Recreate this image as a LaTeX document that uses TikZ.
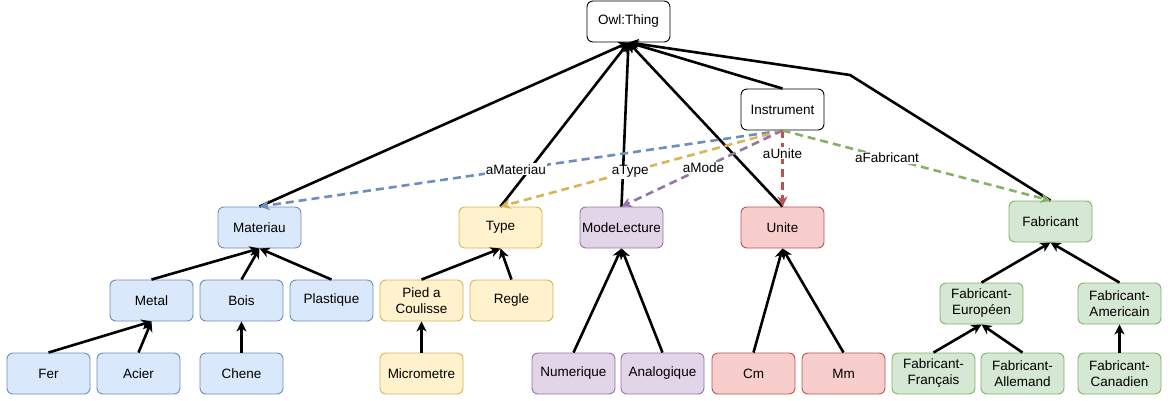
\documentclass[tikz,border=0pt]{standalone}
\usepackage{fontspec}
\setmainfont{Liberation Sans}
\usetikzlibrary{arrows.meta}
\definecolor{bluefill}{HTML}{DAE8FC}\definecolor{bluedraw}{HTML}{6C8EBF}
\definecolor{yelfill}{HTML}{FFF2CC}\definecolor{yeldraw}{HTML}{D6B656}
\definecolor{purfill}{HTML}{E1D5E7}\definecolor{purdraw}{HTML}{9673A6}
\definecolor{redfill}{HTML}{F8CECC}\definecolor{reddraw}{HTML}{B85450}
\definecolor{grnfill}{HTML}{D5E8D4}\definecolor{grndraw}{HTML}{82B366}
\begin{document}
\begin{tikzpicture}[x=1pt,y=-1pt,
  box/.style={draw, rounded corners=6pt, minimum width=83pt, minimum height=41pt,
    align=center, font=\fontsize{13.5}{16}\selectfont, line width=0.9pt, inner sep=2pt},
  plainbox/.style={box, draw=black, fill=white},
  bluebox/.style={box, draw=bluedraw, fill=bluefill},
  yelbox/.style={box, draw=yeldraw, fill=yelfill},
  purbox/.style={box, draw=purdraw, fill=purfill},
  redbox/.style={box, draw=reddraw, fill=redfill},
  grnbox/.style={box, draw=grndraw, fill=grnfill},
  isa/.style={line width=2.6pt, -{Stealth[length=10pt,width=10pt,inset=3pt]}},
  rel/.style={line width=2.6pt, dash pattern=on 8pt off 5pt,
    -{Stealth[length=10pt,width=10pt,inset=3pt]}},
  lbl/.style={fill=white, inner sep=1pt, font=\fontsize{13.5}{16}\selectfont}]
\useasboundingbox (0,0) rectangle (1171,400);

% top level
\node[plainbox] (owl) at (628.5,21.5) {Owl:Thing};
\node[plainbox] (inst) at (782.5,109.5) {Instrument};

% main classes
\node[bluebox] (mat) at (259.5,227.5) {Materiau};
\node[yelbox] (typ) at (500.5,227.5) {Type};
\node[purbox] (mode) at (621.5,227.5) {ModeLecture};
\node[redbox] (uni) at (782.5,227.5) {Unite};
\node[grnbox] (fab) at (1050.5,221.5) {Fabricant};

% second level
\node[bluebox] (metal) at (151.5,300.5) {Metal};
\node[bluebox] (bois) at (241.5,300.5) {Bois};
\node[bluebox] (plast) at (331.5,300.5) {Plastique};
\node[yelbox] (pied) at (421.5,300.5) {Pied a\\Coulisse};
\node[yelbox] (regle) at (511.5,300.5) {Regle};
\node[grnbox] (euro) at (981.5,303.5) {Fabricant-\\Europ\'een};
\node[grnbox] (amer) at (1119.5,303.5) {Fabricant-\\Americain};

% third level
\node[bluebox] (fer) at (48.5,373.5) {Fer};
\node[bluebox] (acier) at (138.5,373.5) {Acier};
\node[bluebox] (chene) at (241.5,373.5) {Chene};
\node[yelbox] (micro) at (421.5,373.5) {Micrometre};
\node[purbox] (num) at (573.5,373.5) {Numerique};
\node[purbox] (ana) at (662.5,373.5) {Analogique};
\node[redbox] (cm) at (753.5,373.5) {Cm};
\node[redbox] (mm) at (843.5,373.5) {Mm};
\node[grnbox] (fr) at (933.5,373.5) {Fabricant-\\Fran\c{c}ais};
\node[grnbox] (de) at (1022.5,373.5) {Fabricant-\\Allemand};
\node[grnbox] (ca) at (1119.5,373.5) {Fabricant-\\Canadien};

\coordinate (bend) at (850,75);

% subclass links
\draw[isa] (mat.north) -- (owl.south);
\draw[isa] (typ.north) -- (owl.south);
\draw[isa] (mode.north) -- (owl.south);
\draw[isa] (uni.north) -- (owl.south);
\draw[isa] (inst.north) -- (owl.south);
\draw[isa] (fab.north) -- (bend) -- (owl.south);

\draw[isa] (metal.north) -- (mat.south);
\draw[isa] (bois.north) -- (mat.south);
\draw[isa] (plast.north) -- (mat.south);
\draw[isa] (fer.north) -- (metal.south);
\draw[isa] (acier.north) -- (metal.south);
\draw[isa] (chene.north) -- (bois.south);

\draw[isa] (pied.north) -- (typ.south);
\draw[isa] (regle.north) -- (typ.south);
\draw[isa] (micro.north) -- (pied.south);

\draw[isa] (num.north) -- (mode.south);
\draw[isa] (ana.north) -- (mode.south);

\draw[isa] (cm.north) -- (uni.south);
\draw[isa] (mm.north) -- (uni.south);

\draw[isa] (euro.north) -- (fab.south);
\draw[isa] (amer.north) -- (fab.south);
\draw[isa] (fr.north) -- (euro.south);
\draw[isa] (de.north) -- (euro.south);
\draw[isa] (ca.north) -- (amer.south);

% object properties of Instrument
\draw[rel, bluedraw] (inst.south) -- (mat.north);
\draw[rel, yeldraw] (inst.south) -- (typ.north);
\draw[rel, purdraw] (inst.south) -- (mode.north);
\draw[rel, reddraw] (inst.south) -- (uni.north);
\draw[rel, grndraw] (inst.south) -- (fab.north);

\path (inst.south) -- (mat.north) node[lbl, pos=0.51] {aMateriau};
\path (inst.south) -- (typ.north) node[lbl, pos=0.54] {aType};
\path (inst.south) -- (mode.north) node[lbl, pos=0.49] {aMode};
\path (inst.south) -- (uni.north) node[lbl, pos=0.30] {aUnite};
\path (inst.south) -- (fab.north) node[lbl, pos=0.39] {aFabricant};
\end{tikzpicture}
\end{document}
